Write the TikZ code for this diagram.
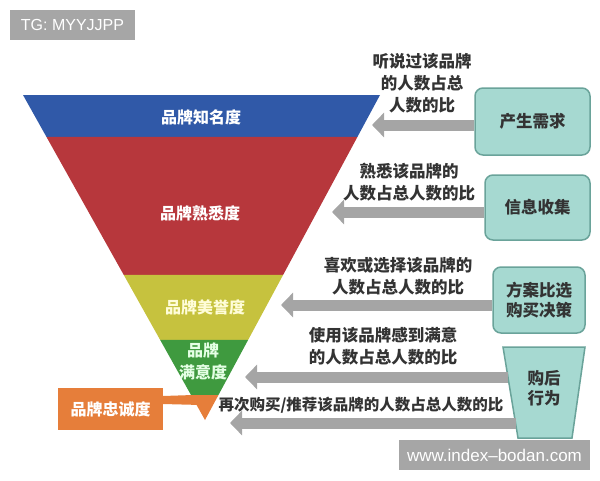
\documentclass[tikz,border=0pt]{standalone}
\usepackage{fontspec}
\setmainfont{Liberation Sans}
\newfontfamily\cjk{Noto Sans CJK SC}
\usetikzlibrary{arrows.meta,calc}
\definecolor{fblue}{HTML}{3059A8}
\definecolor{fred}{HTML}{B7373C}
\definecolor{fyellow}{HTML}{C6C23E}
\definecolor{fgreen}{HTML}{3F9A3F}
\definecolor{forange}{HTML}{E67E3A}
\definecolor{tealfill}{HTML}{A6D9D1}
\definecolor{tealdark}{HTML}{6AA39A}
\definecolor{arrowgrey}{HTML}{A5A5A5}
\definecolor{wmgrey}{HTML}{A6A6A6}
\begin{document}
\begin{tikzpicture}[x=1pt,y=-1pt,
  flab/.style={font=\cjk\bfseries\fontsize{16}{22}\selectfont, text=white, align=center, inner sep=0},
  lab/.style={font=\cjk\bfseries\fontsize{16.5}{22}\selectfont, text=black!80, align=center, inner sep=0},
  stagebox/.style={draw=tealdark, line width=1.5pt, fill=tealfill, rounded corners=8pt},
  stagetext/.style={font=\cjk\bfseries\fontsize{16.5}{20}\selectfont, text=black!80, align=center, inner sep=0},
  flow/.style={draw=arrowgrey, line width=11pt, -{Triangle[length=12pt,width=24pt]}},
  wm/.style={fill=wmgrey, text=white, inner sep=0, anchor=north west}
]
\useasboundingbox (0,0) rectangle (600,480);
% funnel geometry
\coordinate (TL) at (23,95);
\coordinate (TR) at (380,95);
\coordinate (AP) at (205,420);
\coordinate (L1) at ($(TL)!0.1292!(AP)$); \coordinate (R1) at ($(TR)!0.1292!(AP)$);
\coordinate (L2) at ($(TL)!0.5538!(AP)$); \coordinate (R2) at ($(TR)!0.5538!(AP)$);
\coordinate (L3) at ($(TL)!0.7538!(AP)$); \coordinate (R3) at ($(TR)!0.7538!(AP)$);
\coordinate (L4) at ($(TL)!0.9231!(AP)$); \coordinate (R4) at ($(TR)!0.9231!(AP)$);
\fill[fblue] (TL) -- (TR) -- (R1) -- (L1) -- cycle;
\fill[fred] (L1) -- (R1) -- (R2) -- (L2) -- cycle;
\fill[fyellow] (L2) -- (R2) -- (R3) -- (L3) -- cycle;
\fill[fgreen] (L3) -- (R3) -- (R4) -- (L4) -- cycle;
\fill[forange] (L4) -- (R4) -- (AP) -- cycle;
% loyalty callout
\fill[forange] (163,396) -- (193,395) -- (201,405) -- (163,404) -- cycle;
\node[fill=forange, minimum width=105pt, minimum height=42pt, inner sep=0,
  font=\cjk\bfseries\fontsize{16}{20}\selectfont, text=white] (loyal) at (110.5,409) {品牌忠诚度};
% funnel labels
\node[flab] (aware) at (201,117) {品牌知名度};
\node[flab] (famil) at (200,213) {品牌熟悉度};
\node[flab, text=yellow!15] (repu) at (205,307) {品牌美誉度};
\node[flab, text=green!10] (satis) at (203,361) {品牌\\满意度};
% stage boxes
\node[stagebox, minimum width=115pt, minimum height=67pt] (b1) at (532.5,121.5) {};
\node[stagetext] at (b1.center) {产生需求};
\node[stagebox, minimum width=105pt, minimum height=65pt] (b2) at (537.5,207.5) {};
\node[stagetext] at (b2.center) {信息收集};
\node[stagebox, minimum width=92pt, minimum height=66pt] (b3) at (539,300) {};
\node[stagetext] at (b3.center) {方案比选\\购买决策};
\coordinate (q1) at (503,347); \coordinate (q2) at (585,347);
\coordinate (q3) at (572,438); \coordinate (q4) at (518,438);
\filldraw[draw=tealdark, line width=1.5pt, fill=tealfill] (q1) -- (q2) -- (q3) -- (q4) -- cycle;
\node[stagetext] (b4) at (544,388) {购后\\行为};
\coordinate (s4) at ($(q1)!0.33!(q4)$);
\coordinate (s5) at ($(q1)!0.835!(q4)$);
% arrow tips
\coordinate (t1) at (372,125);
\coordinate (t2) at (332,212);
\coordinate (t3) at (281,305);
\coordinate (t4) at (245,377);
\coordinate (t5) at (230,423);
\draw[flow] (b1.west |- t1) -- (t1);
\draw[flow] (b2.west |- t2) -- (t2);
\draw[flow] (b3.west |- t3) -- (t3);
\draw[flow] (s4 |- t4) -- (t4);
\draw[flow] (s5 |- t5) -- (t5);
% labels
\node[lab] (l1) at (422,83) {听说过该品牌\\的人数占总\\人数的比};
\node[lab] (l2) at (409,182) {熟悉该品牌的\\人数占总人数的比};
\node[lab] (l3) at (398,276) {喜欢或选择该品牌的\\人数占总人数的比};
\node[lab] (l4) at (383,346) {使用该品牌感到满意\\的人数占总人数的比};
\node[lab, font=\cjk\bfseries\fontsize{15.5}{20}\selectfont] (l5) at (361,405) {再次购买/推荐该品牌的人数占总人数的比};
% watermarks
\fill[wmgrey] (10,10) rectangle (135,40);
\node[text=white, font=\fontsize{16}{18}\selectfont, inner sep=0] (wm1) at (72.5,25) {TG: MYYJJPP};
\fill[wmgrey] (399,440) rectangle (590,470);
\node[text=white, font=\fontsize{17}{19}\selectfont, inner sep=0] (wm2) at (494.5,455) {www.index\textendash bodan.com};
\end{tikzpicture}
\end{document}
